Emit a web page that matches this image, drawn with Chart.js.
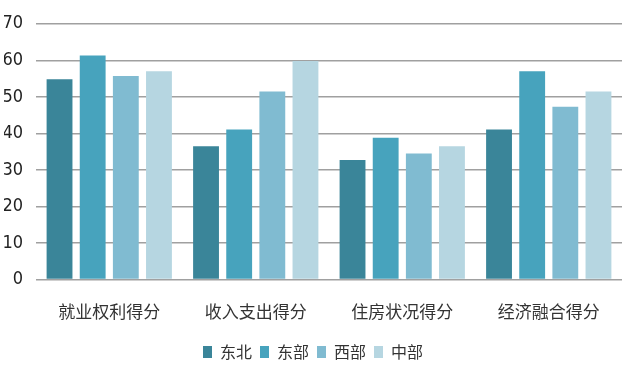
<!DOCTYPE html>
<html>
<head>
<meta charset="utf-8">
<script src="https://cdn.jsdelivr.net/npm/chart.js@4/dist/chart.umd.min.js"></script>
<style>
  html, body { margin: 0; padding: 0; background: #fff; }
  #wrap { width: 630px; height: 372px; }
</style>
</head>
<body>
<div id="wrap"><canvas id="myChart"></canvas></div>
<script>
var categories = ["就业权利得分", "收入支出得分", "住房状况得分", "经济融合得分"];
var seriesNames = ["东北", "东部", "西部", "中部"];
var dongbei = [54.8, 36.5, 32.7, 41.1];
var dongbu = [61.3, 41.1, 38.8, 57.0];
var xibu = [55.7, 51.5, 34.5, 47.3];
var zhongbu = [57.0, 59.8, 36.5, 51.5];
var yTicks = [0, 10, 20, 30, 40, 50, 60, 70];

var colors = ["#3a8599", "#47a3bd", "#80bbd1", "#b6d6e1"];
var values = [dongbei, dongbu, xibu, zhongbu];

var ctx = document.getElementById("myChart").getContext("2d");
new Chart(ctx, {
  type: "bar",
  data: {
    labels: categories,
    datasets: seriesNames.map(function(name, i) {
      return {
        label: name,
        data: values[i],
        backgroundColor: colors[i],
        borderWidth: 0,
        categoryPercentage: 0.905,
        barPercentage: 0.78
      };
    })
  },
  options: {
    responsive: true,
    maintainAspectRatio: false,
    animation: false,
    layout: { padding: { left: 4, right: 8, top: 8, bottom: 2 } },
    plugins: {
      tooltip: { enabled: false },
      legend: {
        position: "bottom",
        labels: {
          boxWidth: 9,
          boxHeight: 12,
          padding: 8,
          color: "#333",
          font: { family: "'Noto Sans CJK SC'", size: 16 }
        }
      }
    },
    scales: {
      x: {
        grid: { display: false },
        border: { display: false },
        ticks: {
          color: "#333",
          padding: 14,
          font: { family: "'Noto Sans CJK SC'", size: 17 }
        }
      },
      y: {
        min: 0,
        max: 70,
        afterBuildTicks: function(axis) {
          axis.ticks = yTicks.map(function(v) { return { value: v }; });
        },
        afterFit: function(axis) {
          axis.width = 32;
        },
        grid: { color: "#a0a0a0", lineWidth: 1.5, drawTicks: false },
        border: { display: false },
        ticks: {
          color: "#222",
          padding: 13,
          font: { family: "'DejaVu Sans Condensed', 'Liberation Sans'", size: 18 }
        }
      }
    }
  }
});
</script>
</body>
</html>
